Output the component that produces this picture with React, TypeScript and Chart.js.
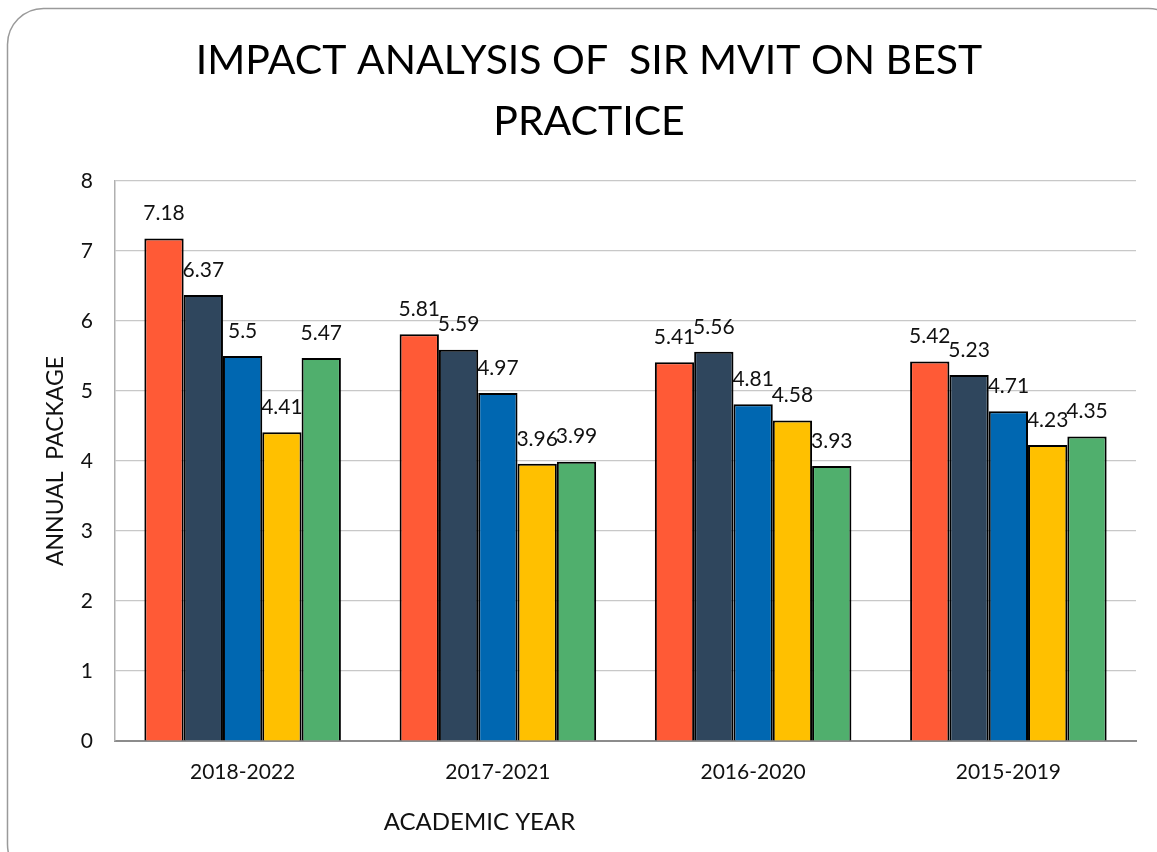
import React, { useEffect, useRef } from "react";
import { Chart, registerables } from "chart.js";

Chart.register(...registerables);

const categories = ["2018-2022", "2017-2021", "2016-2020", "2015-2019"];
const series1 = [7.18, 5.81, 5.41, 5.42];
const series2 = [6.37, 5.59, 5.56, 5.23];
const series3 = [5.5, 4.97, 4.81, 4.71];
const series4 = [4.41, 3.96, 4.58, 4.23];
const series5 = [5.47, 3.99, 3.93, 4.35];
const seriesNames = ["Series 1", "Series 2", "Series 3", "Series 4", "Series 5"];
const seriesColors = ["#FF5A36", "#2F465D", "#0067B1", "#FFC000", "#50AF6D"];
const titleLines = ["IMPACT ANALYSIS OF  SIR MVIT ON BEST", "PRACTICE"];
const yTitle = "ANNUAL  PACKAGE";
const xTitle = "ACADEMIC YEAR";

const FONT = "Lato, 'Open Sans', sans-serif";

const framePlugin = {
  id: "frame",
  beforeDraw(chart: any) {
    const ctx = chart.ctx;
    ctx.save();
    ctx.fillStyle = "#ffffff";
    ctx.fillRect(0, 0, chart.width, chart.height);
    ctx.strokeStyle = "#9a9a9a";
    ctx.lineWidth = 1.5;
    ctx.beginPath();
    (ctx as any).roundRect(7.5, 8.5, chart.width + 20, chart.height + 20, 36);
    ctx.stroke();
    ctx.restore();
  },
};

const labelPlugin = {
  id: "barLabels",
  afterDatasetsDraw(chart: any) {
    const ctx = chart.ctx;
    ctx.save();
    ctx.font = `21px ${FONT}`;
    ctx.fillStyle = "#111";
    ctx.textAlign = "center";
    ctx.textBaseline = "middle";
    chart.data.datasets.forEach((ds: any, i: number) => {
      const meta = chart.getDatasetMeta(i);
      meta.data.forEach((bar: any, j: number) => {
        ctx.fillText(String(ds.data[j]), bar.x, bar.y - 25);
      });
    });
    // x axis title
    const xs = chart.scales.x;
    ctx.font = `24px ${FONT}`;
    ctx.fillText(xTitle, xs.left + (xs.right - xs.left) * 0.357, 822);
    ctx.restore();
  },
};

export default function App() {
  const ref = useRef<HTMLCanvasElement>(null);
  useEffect(() => {
    document.body.style.margin = "0";
    const all = [series1, series2, series3, series4, series5];
    const chart = new Chart(ref.current!, {
      type: "bar",
      data: {
        labels: categories,
        datasets: all.map((d, i) => ({
          label: seriesNames[i],
          data: d,
          backgroundColor: seriesColors[i],
          borderColor: "#000000",
          borderWidth: 2,
          borderSkipped: "bottom",
          categoryPercentage: 0.77,
          barPercentage: 1,
        })),
      },
      options: {
        animation: false,
        responsive: false,
        layout: { padding: { left: 42, right: 21, top: 0, bottom: 0 } },
        plugins: {
          legend: { display: false },
          tooltip: { enabled: false },
          title: {
            display: true,
            text: titleLines,
            color: "#000",
            font: { family: FONT, size: 41, weight: "normal", lineHeight: 1.5 },
            padding: { top: 30, bottom: 28 },
          },
        },
        scales: {
          x: {
            grid: { display: false, drawTicks: false },
            border: { color: "#8c8c8c", width: 2 },
            ticks: { color: "#111", font: { family: FONT, size: 21 }, padding: 19 },
            afterFit: (s: any) => {
              s.height = 111;
            },
          },
          y: {
            min: 0,
            max: 8,
            ticks: { stepSize: 1, color: "#111", font: { family: FONT, size: 21 }, padding: 22 },
            grid: { color: "#c8c8c8", lineWidth: 1.2, drawTicks: false },
            border: { color: "#b0b0b0", width: 1.5 },
            title: {
              display: true,
              text: yTitle,
              color: "#111",
              font: { family: FONT, size: 23 },
              padding: { top: 0, bottom: 0 },
            },
            afterFit: (s: any) => {
              s.width = 73;
            },
          },
        },
      },
      plugins: [framePlugin, labelPlugin],
    });
    return () => chart.destroy();
  }, []);
  return (
    <div style={{ position: "fixed", left: 0, top: 0, width: 1157, height: 852 }}>
      <canvas ref={ref} width={1157} height={852} style={{ display: "block" }} />
    </div>
  );
}
